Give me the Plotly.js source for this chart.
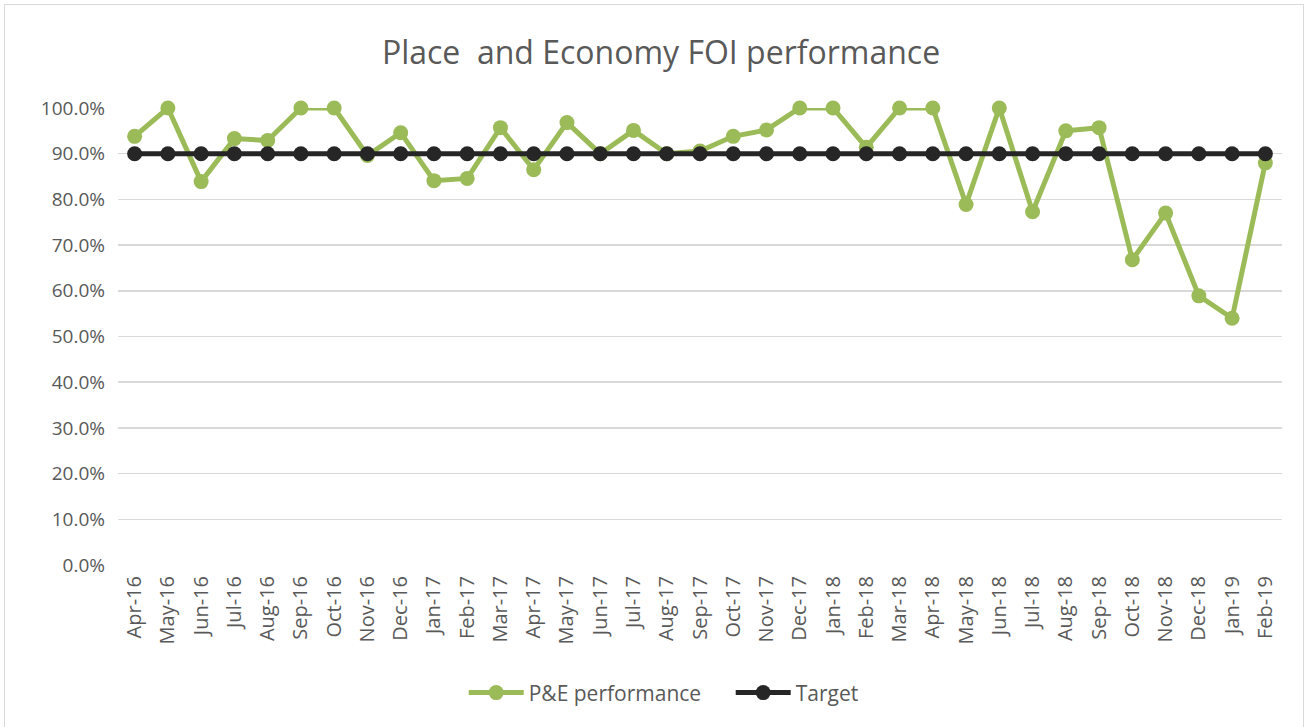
<!DOCTYPE html>
<html><head><meta charset="utf-8">
<script src="https://cdn.plot.ly/plotly-3.0.1.min.js"></script>
<style>
html,body{margin:0;padding:0;background:#fff;}
#frame{position:absolute;left:4px;top:4px;width:1300px;height:740px;border:1px solid #d9d9d9;box-sizing:border-box;}
#chart{position:absolute;left:0;top:0;width:1309px;height:727px;}
</style></head>
<body><div id="frame"></div><div id="chart"></div>
<script>
const months = ["Apr-16","May-16","Jun-16","Jul-16","Aug-16","Sep-16","Oct-16","Nov-16","Dec-16","Jan-17","Feb-17","Mar-17","Apr-17","May-17","Jun-17","Jul-17","Aug-17","Sep-17","Oct-17","Nov-17","Dec-17","Jan-18","Feb-18","Mar-18","Apr-18","May-18","Jun-18","Jul-18","Aug-18","Sep-18","Oct-18","Nov-18","Dec-18","Jan-19","Feb-19"];
const performance = [0.938,1.0,0.839,0.933,0.929,1.0,1.0,0.896,0.946,0.841,0.846,0.957,0.865,0.968,0.900,0.951,0.900,0.906,0.938,0.952,1.0,1.0,0.914,1.0,1.0,0.789,1.0,0.773,0.950,0.957,0.668,0.770,0.589,0.540,0.880];
const target = months.map(() => 0.9);
const yTicks = [0,0.1,0.2,0.3,0.4,0.5,0.6,0.7,0.8,0.9,1.0];

const fam = "Open Sans, Liberation Sans, sans-serif";
const data = [
  {x:months, y:performance, name:"P&E performance", type:"scatter", mode:"lines+markers", cliponaxis:false,
   line:{color:"#9BBB59", width:5}, marker:{color:"#9BBB59", size:15}},
  {x:months, y:target, name:"Target", type:"scatter", mode:"lines+markers", cliponaxis:false,
   line:{color:"#262626", width:5}, marker:{color:"#262626", size:15}}
];
const layout = {
  width:1309, height:727,
  paper_bgcolor:"rgba(0,0,0,0)", plot_bgcolor:"rgba(0,0,0,0)",
  margin:{l:118, r:27, t:108, b:162},
  title:{text:"Place  and Economy FOI performance", x:0.505, xanchor:"center", y:0.928, yanchor:"middle",
         font:{family:fam, size:32, color:"#595959"}},
  xaxis:{type:"category", range:[-0.5, 34.5], tickangle:-90, tickfont:{family:fam, size:20, color:"#595959"},
         showgrid:false, zeroline:false, showline:false, ticks:"", automargin:false, ticklabelstandoff:6},
  yaxis:{range:[0,1.0], tickvals:yTicks, tickformat:".1%", tickfont:{family:fam, size:19, color:"#595959"},
         showgrid:true, gridcolor:"#d9d9d9", gridwidth:1.5, zeroline:false, showline:false, ticks:"", automargin:false,
         ticklabelstandoff:12},
  showlegend:true,
  legend:{orientation:"h", x:0.297, xanchor:"left", y:-0.28, yanchor:"middle", itemwidth:55, entrywidth:197,
          font:{family:fam, size:21, color:"#595959"}},
  hovermode:false
};
Plotly.newPlot("chart", data, layout, {displayModeBar:false, staticPlot:true});
</script></body></html>
